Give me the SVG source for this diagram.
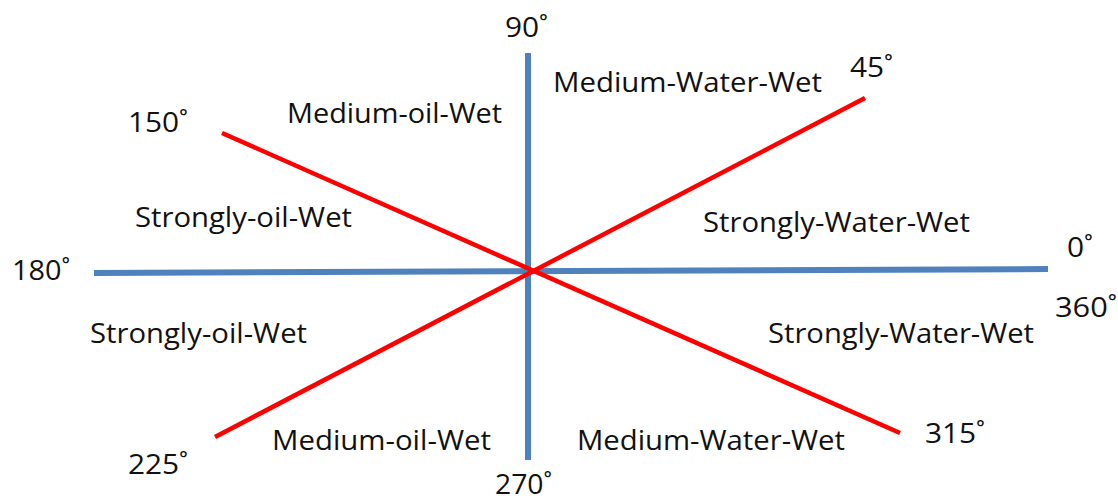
<svg xmlns="http://www.w3.org/2000/svg" width="1118" height="502" viewBox="0 0 1118 502">
<style>
.t{font-family:"Open Sans","Liberation Sans",sans-serif;font-size:28px;fill:#111;}
.blue{stroke:#4f81bd;stroke-width:6;fill:none;}
.red{stroke:#ff0000;stroke-width:4.5;fill:none;}
</style>
<rect width="1118" height="502" fill="#fff"/>
<g id="axes">
<line class="blue" x1="528" y1="53" x2="528" y2="460"/>
<line class="blue" x1="94" y1="273" x2="1048" y2="269"/>
</g>
<g id="boundaries">
<line class="red" x1="222" y1="133" x2="900" y2="433"/>
<line class="red" x1="215" y1="437" x2="865" y2="98"/>
</g>
<g id="angles">
<text class="t" x="505" y="37" textLength="43" lengthAdjust="spacingAndGlyphs">90˚</text>
<text class="t" x="850" y="77" textLength="43" lengthAdjust="spacingAndGlyphs">45˚</text>
<text class="t" x="128" y="132" textLength="60" lengthAdjust="spacingAndGlyphs">150˚</text>
<text class="t" x="12" y="280" textLength="58" lengthAdjust="spacingAndGlyphs">180˚</text>
<text class="t" x="1067" y="257" textLength="26" lengthAdjust="spacingAndGlyphs">0˚</text>
<text class="t" x="1055" y="317" textLength="62" lengthAdjust="spacingAndGlyphs">360˚</text>
<text class="t" x="128" y="474" textLength="60" lengthAdjust="spacingAndGlyphs">225˚</text>
<text class="t" x="925" y="443" textLength="60" lengthAdjust="spacingAndGlyphs">315˚</text>
<text class="t" x="495" y="494" textLength="57" lengthAdjust="spacingAndGlyphs">270˚</text>
</g>
<g id="regions">
<text class="t" x="553" y="92" textLength="269" lengthAdjust="spacingAndGlyphs">Medium-Water-Wet</text>
<text class="t" x="287" y="123" textLength="215" lengthAdjust="spacingAndGlyphs">Medium-oil-Wet</text>
<text class="t" x="135" y="227" textLength="217" lengthAdjust="spacingAndGlyphs">Strongly-oil-Wet</text>
<text class="t" x="703" y="232" textLength="267" lengthAdjust="spacingAndGlyphs">Strongly-Water-Wet</text>
<text class="t" x="90" y="343" textLength="217" lengthAdjust="spacingAndGlyphs">Strongly-oil-Wet</text>
<text class="t" x="768" y="343" textLength="266" lengthAdjust="spacingAndGlyphs">Strongly-Water-Wet</text>
<text class="t" x="272" y="450" textLength="219" lengthAdjust="spacingAndGlyphs">Medium-oil-Wet</text>
<text class="t" x="577" y="450" textLength="268" lengthAdjust="spacingAndGlyphs">Medium-Water-Wet</text>
</g>
</svg>
